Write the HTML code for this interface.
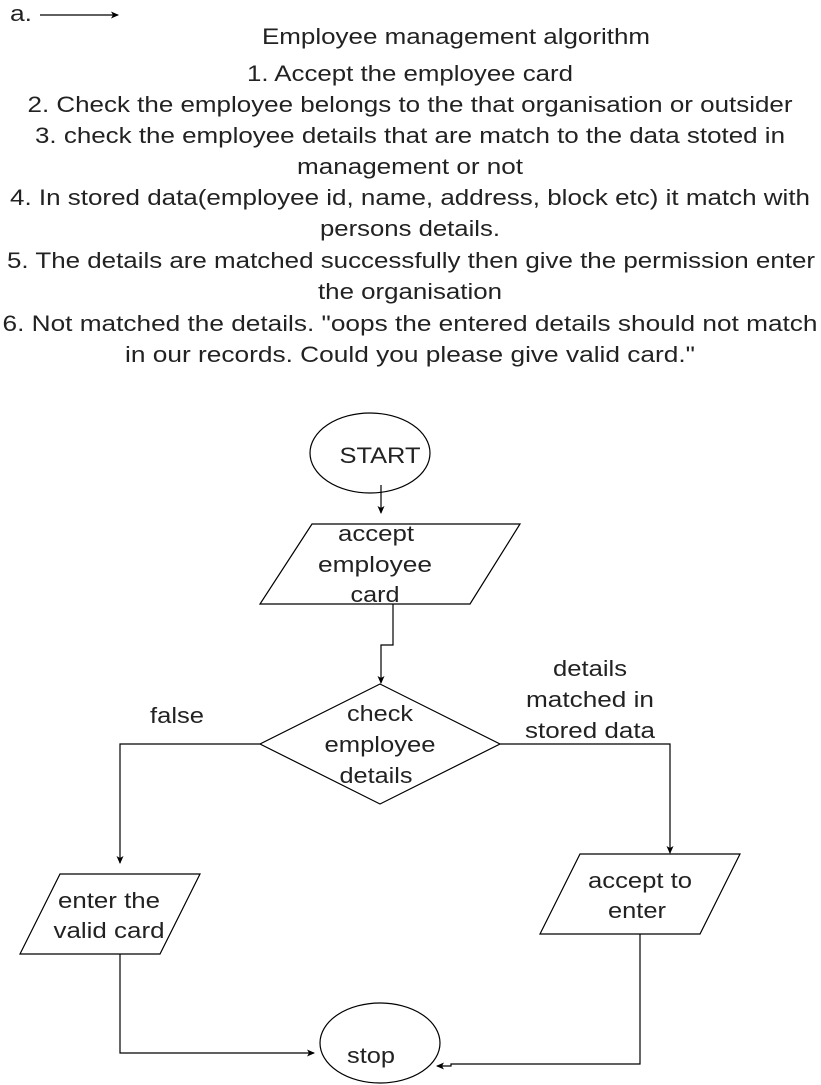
<!DOCTYPE html>
<html><head><meta charset="utf-8"><style>
html,body{margin:0;padding:0;background:#fff}
svg{display:block}
text{font-family:"Liberation Sans",Arial,Helvetica,sans-serif;font-size:22px;fill:#222}
</style></head><body>
<svg width="821" height="1085" viewBox="0 0 821 1085">
<defs><marker id="a" markerWidth="8" markerHeight="8" refX="7" refY="4" orient="auto" markerUnits="userSpaceOnUse"><path d="M0,0.5 L8,4 L0,7.5 L2,4z" fill="#000"/></marker></defs>
<g text-anchor="middle" lengthAdjust="spacingAndGlyphs">
<text x="21" y="21" textLength="22" lengthAdjust="spacingAndGlyphs">a.</text>
<text x="456" y="44" textLength="388" lengthAdjust="spacingAndGlyphs">Employee management algorithm</text>
<text x="410" y="81" textLength="326" lengthAdjust="spacingAndGlyphs">1. Accept the employee card</text>
<text x="410" y="112" textLength="765" lengthAdjust="spacingAndGlyphs">2. Check the employee belongs to the that organisation or outsider</text>
<text x="410" y="143" textLength="750" lengthAdjust="spacingAndGlyphs">3. check the employee details that are match to the data stoted in</text>
<text x="410" y="174" textLength="226" lengthAdjust="spacingAndGlyphs">management or not</text>
<text x="410" y="205" textLength="800" lengthAdjust="spacingAndGlyphs">4. In stored data(employee id, name, address, block etc) it match with</text>
<text x="410" y="236" textLength="180" lengthAdjust="spacingAndGlyphs">persons details.</text>
<text x="411" y="268" textLength="808" lengthAdjust="spacingAndGlyphs">5. The details are matched successfully then give the permission enter</text>
<text x="410" y="299" textLength="184" lengthAdjust="spacingAndGlyphs">the organisation</text>
<text x="410" y="331" textLength="815" lengthAdjust="spacingAndGlyphs">6. Not matched the details. "oops the entered details should  not match</text>
<text x="410" y="362" textLength="570" lengthAdjust="spacingAndGlyphs">in our records. Could you  please give valid card."</text>
</g>
<line x1="40" y1="15" x2="118" y2="15" stroke="#000" stroke-width="1.2" marker-end="url(#a)"/>
<g fill="#fff" stroke="#000" stroke-width="1.2">
<ellipse cx="370" cy="453" rx="60" ry="40"/>
<polygon points="312,524 520,524 470,604 260,604"/>
<polygon points="380,684 500,744 380,804 260,744"/>
<polygon points="60,874 200,874 160,954 20,954"/>
<polygon points="580,854 740,854 700,934 540,934"/>
<ellipse cx="380" cy="1043" rx="60" ry="40"/>
</g>
<g fill="none" stroke="#000" stroke-width="1.2" marker-end="url(#a)">
<polyline points="381,485 381,513"/>
<polyline points="393,604 393,645 381,645 381,683"/>
<polyline points="260,744 120,744 120,863"/>
<polyline points="500,744 670,744 670,853"/>
<polyline points="120,954 120,1053 314,1053"/>
<polyline points="640,934 640,1064 451,1064 451,1066 437,1066"/>
</g>
<g text-anchor="middle">
<text x="380" y="463" textLength="81" lengthAdjust="spacingAndGlyphs">START</text>
<text x="376" y="541" textLength="76" lengthAdjust="spacingAndGlyphs">accept</text>
<text x="375" y="572" textLength="114" lengthAdjust="spacingAndGlyphs">employee</text>
<text x="375" y="602" textLength="49" lengthAdjust="spacingAndGlyphs">card</text>
<text x="380" y="721" textLength="66" lengthAdjust="spacingAndGlyphs">check</text>
<text x="380" y="752" textLength="111" lengthAdjust="spacingAndGlyphs">employee</text>
<text x="376" y="783" textLength="73" lengthAdjust="spacingAndGlyphs">details</text>
<text x="109" y="908" textLength="102" lengthAdjust="spacingAndGlyphs">enter the</text>
<text x="109" y="938" textLength="111" lengthAdjust="spacingAndGlyphs">valid card</text>
<text x="640" y="888" textLength="104" lengthAdjust="spacingAndGlyphs">accept to</text>
<text x="637" y="918" textLength="58" lengthAdjust="spacingAndGlyphs">enter</text>
<text x="371" y="1063" textLength="48" lengthAdjust="spacingAndGlyphs">stop</text>
<text x="177" y="723" textLength="54" lengthAdjust="spacingAndGlyphs">false</text>
<text x="590" y="676" textLength="74" lengthAdjust="spacingAndGlyphs">details</text>
<text x="590" y="707" textLength="128" lengthAdjust="spacingAndGlyphs">matched in</text>
<text x="590" y="738" textLength="130" lengthAdjust="spacingAndGlyphs">stored data</text>
</g>
</svg>
</body></html>
